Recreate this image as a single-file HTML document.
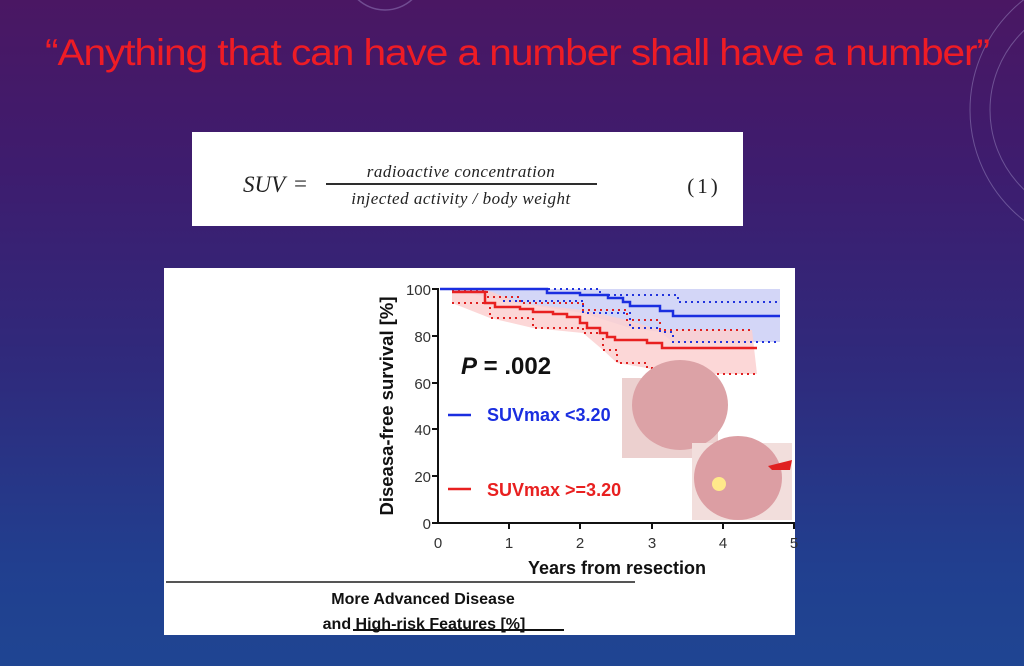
<!DOCTYPE html>
<html><head><meta charset="utf-8"><style>
html,body{margin:0;padding:0;width:1024px;height:666px;overflow:hidden}
body{background:linear-gradient(180deg,#4a1763 0%,#3e1c6e 25%,#2f2a7c 55%,#213f8f 85%,#1f4592 100%);position:relative;font-family:"Liberation Sans",sans-serif}
.t{position:absolute;left:45px;top:32px;color:#ee1c25;font-family:"Liberation Sans",sans-serif;font-size:37px;letter-spacing:-1px;white-space:nowrap;transform-origin:0 0;transform:scaleX(1.1)}
.box{position:absolute;left:192px;top:132px;width:551px;height:94px;background:#fff}
.panel{position:absolute;left:164px;top:268px;width:631px;height:367px;background:#fff}
</style></head><body>
<svg width="1024" height="666" style="position:absolute;left:0;top:0">
 <circle cx="385" cy="-30" r="40" fill="none" stroke="#8a70b0" stroke-width="1.5" opacity="0.6"/>
 <circle cx="1110" cy="110" r="140" fill="none" stroke="#9a8ac0" stroke-width="1" opacity="0.5"/>
 <circle cx="1100" cy="110" r="110" fill="none" stroke="#9a8ac0" stroke-width="1" opacity="0.5"/>
</svg>
<div class="t">“Anything that can have a number shall have a number”</div>
<div class="box"></div>
<div class="panel"></div>
<svg width="1024" height="666" style="position:absolute;left:0;top:0" font-family="Liberation Serif, serif">
 <text x="243" y="192" font-size="23" font-style="italic" fill="#222">SUV</text>
 <text x="294" y="191" font-size="23" fill="#222">=</text>
 <text x="461" y="177" font-size="17" font-style="italic" fill="#222" text-anchor="middle" letter-spacing="0.5">radioactive concentration</text>
 <line x1="326" y1="184" x2="597" y2="184" stroke="#111" stroke-width="1.8"/>
 <text x="461" y="204" font-size="17" font-style="italic" fill="#222" text-anchor="middle" letter-spacing="0.5">injected activity / body weight</text>
 <text x="704" y="193" font-size="21" fill="#222" text-anchor="middle" letter-spacing="3">(1)</text>
</svg>
<svg width="1024" height="666" style="position:absolute;left:0;top:0" font-family="Liberation Sans, sans-serif">
 <path d="M452,289 L780,289 L780,342 L673,342 L660,332 L630,328 L583,313 L503,301 L452,289Z" fill="#c8ccf5" opacity="0.8"/>
 <path d="M452,290 L487,290 L520,303 L583,310 L627,320 L660,330 L752,330 L757,374 L663,374 L647,368 L617,363 L603,350 L583,333 L533,328 L490,318 L452,303Z" fill="#fbd0d0" opacity="0.85"/>
 <g fill="none" stroke-width="2" stroke-dasharray="2,4">
  <path d="M452,289 H600 V295 H678 V302 H780" stroke="#2233dd"/>
  <path d="M503,301 H583 V313 H630 V328 H660 V332 H673 V342 H780" stroke="#2233dd"/>
  <path d="M452,290 H487 V297 H520 V303 H583 V310 H627 V320 H660 V330 H752" stroke="#e02020"/>
  <path d="M452,303 H490 V318 H533 V328 H583 V333 H603 V350 H617 V363 H647 V368 H663 V374 H757" stroke="#e02020"/>
 </g>
 <path d="M440,289 H547 V293 H580 V295 H608 V298 H623 V302 H630 V306 H660 V311 H673 V316 H780" fill="none" stroke="#1a2ee0" stroke-width="2.5"/>
 <path d="M452,292 H485 V303 H495 V307 H520 V309 H533 V312 H553 V314 H567 V317 H580 V323 H587 V328 H600 V333 H607 V337 H615 V340 H647 V343 H662 V348 H757" fill="none" stroke="#e82020" stroke-width="2.5"/>
 <g stroke="#111" stroke-width="2">
  <line x1="438" y1="288" x2="438" y2="524"/>
  <line x1="437" y1="523" x2="795" y2="523"/>
  <line x1="432" y1="289" x2="438" y2="289"/><line x1="432" y1="336" x2="438" y2="336"/>
  <line x1="432" y1="383" x2="438" y2="383"/><line x1="432" y1="429" x2="438" y2="429"/>
  <line x1="432" y1="476" x2="438" y2="476"/><line x1="432" y1="523" x2="438" y2="523"/>
  <line x1="509" y1="523" x2="509" y2="529"/><line x1="580" y1="523" x2="580" y2="529"/>
  <line x1="652" y1="523" x2="652" y2="529"/><line x1="723" y1="523" x2="723" y2="529"/>
  <line x1="794" y1="523" x2="794" y2="529"/>
 </g>
 <g font-size="15" fill="#333" text-anchor="end">
  <text x="431" y="295">100</text><text x="431" y="342">80</text><text x="431" y="389">60</text>
  <text x="431" y="435">40</text><text x="431" y="482">20</text><text x="431" y="529">0</text>
 </g>
 <g font-size="15" fill="#333" text-anchor="middle">
  <text x="438" y="548">0</text><text x="509" y="548">1</text><text x="580" y="548">2</text>
  <text x="652" y="548">3</text><text x="723" y="548">4</text><text x="794" y="548">5</text>
 </g>
 <text x="617" y="574" font-size="18" font-weight="bold" fill="#111" text-anchor="middle">Years from resection</text>
 <text transform="translate(393,406) rotate(-90)" font-size="18.5" font-weight="bold" fill="#111" text-anchor="middle">Diseasa-free survival [%]</text>
 <text x="461" y="374" font-size="24" font-weight="bold" fill="#111"><tspan font-style="italic">P</tspan> = .002</text>
 <line x1="448" y1="415" x2="471" y2="415" stroke="#1a2ee0" stroke-width="2.5"/>
 <text x="487" y="421" font-size="18" font-weight="bold" fill="#1a2ee0">SUVmax &lt;3.20</text>
 <line x1="448" y1="489" x2="471" y2="489" stroke="#e82020" stroke-width="2.5"/>
 <text x="487" y="496" font-size="18" font-weight="bold" fill="#e82020">SUVmax &gt;=3.20</text>
 <rect x="622" y="378" width="96" height="80" fill="#ecd0cf"/>
 <ellipse cx="680" cy="405" rx="48" ry="45" fill="#dca2a6"/>
 <rect x="692" y="443" width="100" height="77" fill="#f2dedc"/>
 <ellipse cx="738" cy="478" rx="44" ry="42" fill="#dc9ea3"/>
 <circle cx="719" cy="484" r="7" fill="#ffe98a"/>
 <path d="M768,466 L792,460 L790,470 L772,470Z" fill="#e02020"/>
 <line x1="166" y1="582" x2="635" y2="582" stroke="#555" stroke-width="2"/>
 <text x="423" y="604" font-size="16" font-weight="bold" fill="#111" text-anchor="middle">More Advanced Disease</text>
 <text x="424" y="629" font-size="16" font-weight="bold" fill="#111" text-anchor="middle">and High-risk Features [%]</text>
 <line x1="353" y1="630" x2="564" y2="630" stroke="#111" stroke-width="2"/>
</svg>
</body></html>
